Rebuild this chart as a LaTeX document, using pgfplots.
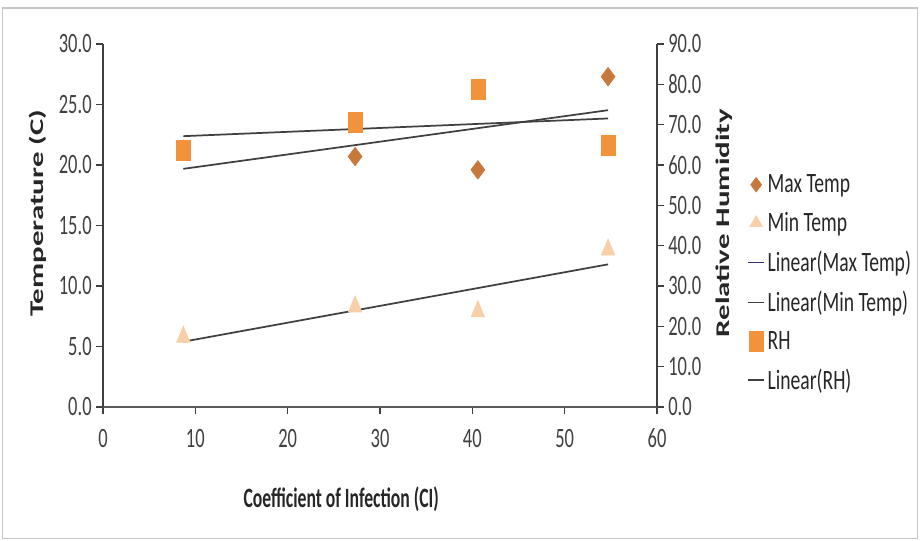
\documentclass[border=0pt]{standalone}
\usepackage{pgfplots}
\usepackage{pgfplotstable}
\pgfplotsset{compat=1.18}
\usepackage{fontspec}
\setmainfont{Carlito}[FakeStretch=0.70]
\newfontfamily\tickf{Carlito}[FakeStretch=0.66]
\newfontfamily\xlabf{Carlito}[FakeStretch=0.63]
\newfontfamily\rotf{Carlito}[FakeStretch=1.6]
\definecolor{maxc}{HTML}{C8783A}
\definecolor{minc}{HTML}{F9CFA8}
\definecolor{rhc}{HTML}{F2923A}
\definecolor{trend}{HTML}{404040}
\definecolor{txt}{HTML}{404040}
\newcommand\cf{\fontsize{21}{24}\selectfont}

\pgfplotstableread{
ci maxt mint rh
8.7 21.3 5.8 63.6
27.3 20.7 8.3 70.5
40.6 19.6 7.9 78.7
54.7 27.3 13.0 65.0
}\data

\pgfplotsset{
  common/.style={
    at={(77.25pt,99.75pt)}, anchor=south west, scale only axis,
    width=415.5pt, height=272.25pt,
    xmin=0, xmax=60,
    tick align=outside, major tick length=5pt,
    tick style={txt, line width=0.9pt},
    axis line style={txt, line width=1.1pt},
    tick label style={font=\tickf\cf, text=txt},
    /pgf/number format/assume math mode=true,
  }
}

\begin{document}
\begin{tikzpicture}
\path (0pt,0pt) rectangle (690pt,405pt);
\draw[gray!45, line width=1pt] (2pt,1pt) rectangle (688pt,399pt);
\begin{axis}[common,
  ymin=0, ymax=30,
  xtick={0,10,...,60}, ytick={0,5,...,30},
  axis x line*=bottom, axis y line*=left,
  x axis line style={line width=1.6pt, gray!70!black},
  yticklabel style={/pgf/number format/.cd, fixed, fixed zerofill, precision=1},
  xticklabel style={/pgf/number format/.cd, fixed, precision=0, /tikz/yshift=-8pt},
  xlabel={Coefficient of Infection (CI)},
  xlabel style={font=\xlabf\bfseries\cf, text=black!85, at={(axis description cs:0.43,-0.253)}, anchor=center},
  ylabel={Temperature (C)},
  ylabel style={font=\rotf\bfseries\fontsize{14.5}{17}\selectfont, text=black!85, at={(axis description cs:-0.117,0.534)}, anchor=center},
]
\addplot[only marks, mark=diamond*, mark size=7pt, color=maxc] table[x=ci,y=maxt]{\data};
\addplot[only marks, mark=triangle*, mark size=6.5pt, color=minc, mark options={yscale=1.25, xscale=0.9}] table[x=ci,y=mint]{\data};
\addplot[trend, line width=1.3pt, no marks] table[x=ci, y={create col/linear regression={y=maxt}}]{\data};
\addplot[trend, line width=1.3pt, no marks] table[x=ci, y={create col/linear regression={y=mint}}]{\data};
\end{axis}
\begin{axis}[common,
  ymin=0, ymax=90, ytick={0,10,...,90},
  axis y line*=right, axis x line=none,
  yticklabel style={/pgf/number format/.cd, fixed, fixed zerofill, precision=1},
  ylabel={Relative Humidity},
  ylabel style={font=\rotf\bfseries\fontsize{14.5}{17}\selectfont, text=black!85, at={(axis description cs:1.121,0.507)}, anchor=center},
  legend style={draw=none, fill=none, font=\cf, text=black!85,
    at={(axis description cs:1.1625,0.648)}, anchor=north west,
    row sep=9.2pt, inner sep=0pt},
  legend cell align=left,
  legend image code/.code={\draw[mark repeat=2,mark phase=2,#1] plot coordinates {(0pt,0pt)(6pt,0pt)(12pt,0pt)};},
]
\addlegendimage{only marks, mark=diamond*, mark size=5.5pt, color=maxc}
\addlegendentry{Max Temp}
\addlegendimage{only marks, mark=triangle*, mark size=5.5pt, color=minc}
\addlegendentry{Min Temp}
\addlegendimage{trend!75!blue, line width=1.3pt}
\addlegendentry{Linear(Max Temp)}
\addlegendimage{trend, line width=1.3pt}
\addlegendentry{Linear(Min Temp)}
\addplot[only marks, mark=square*, mark size=5.2pt, color=rhc, mark options={yscale=1.45}] table[x=ci,y=rh]{\data};
\addlegendentry{RH}
\addplot[trend, line width=1.3pt, no marks] table[x=ci, y={create col/linear regression={y=rh}}]{\data};
\addlegendentry{Linear(RH)}
\end{axis}
\end{tikzpicture}
\end{document}
